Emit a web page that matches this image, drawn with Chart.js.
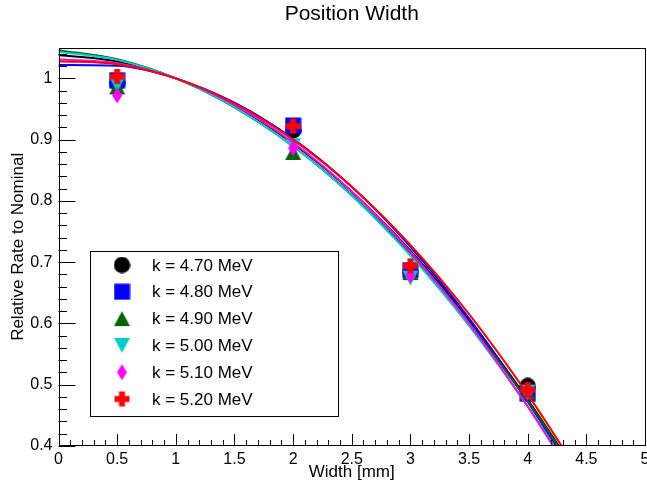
<!DOCTYPE html>
<html><head><meta charset="utf-8">
<script src="https://cdn.jsdelivr.net/npm/chart.js@4.4.1/dist/chart.umd.min.js"></script>
<style>html,body{margin:0;padding:0;background:#fff;}#wrap{width:647px;height:487px;}</style>
</head><body><div id="wrap"><canvas id="c" width="647" height="487"></canvas></div>
<script>
// ---- data ----
const widths = [0.5, 2, 3, 4];
const seriesLabels = ['k = 4.70 MeV', 'k = 4.80 MeV', 'k = 4.90 MeV', 'k = 5.00 MeV', 'k = 5.10 MeV', 'k = 5.20 MeV'];
const rate470 = [0.993, 0.915, 0.685, 0.498];
const rate480 = [0.997, 0.923, 0.687, 0.485];
const rate490 = [0.986, 0.879, 0.683, 0.488];
const rate500 = [0.990, 0.890, 0.674, 0.488];
const rate510 = [0.972, 0.886, 0.678, 0.487];
const rate520 = [1.003, 0.922, 0.694, 0.492];

// fitted curves at these widths, plus where each leaves the frame (y = 0.4)
const fitX = [0, 0.5, 1, 1.5, 2, 2.5, 3, 3.5, 4];
const fit470 = [1.038, 1.0275, 1.0, 0.9554, 0.8937, 0.8148, 0.7189, 0.6059, 0.4758];
const fit480 = [1.0217, 1.0205, 1.0, 0.9602, 0.9012, 0.8229, 0.7252, 0.6084, 0.4722];
const fit490 = [1.046, 1.0311, 1.0, 0.9527, 0.8892, 0.8095, 0.7136, 0.6015, 0.4732];
const fit500 = [1.0434, 1.0301, 1.0, 0.9530, 0.8891, 0.8083, 0.7106, 0.5961, 0.4647];
const fit510 = [1.031, 1.0247, 1.0, 0.9568, 0.8952, 0.8152, 0.7167, 0.5998, 0.4644];
const fit520 = [1.028, 1.0230, 1.0, 0.9590, 0.9000, 0.8231, 0.7281, 0.6152, 0.4842];
const fitExitX = [4.265, 4.24, 4.26, 4.225, 4.217, 4.29];
const fitExitY = 0.4;

const xTickLabels = ['0', '0.5', '1', '1.5', '2', '2.5', '3', '3.5', '4', '4.5', '5'];
const yTickLabels = ['0.4', '0.5', '0.6', '0.7', '0.8', '0.9', '1'];

// ---- styling ----
const colors = ['#000000', '#0000ff', '#006400', '#00cccc', '#ff00ff', '#ff0000'];
const shapes = ['circle', 'square', 'triUp', 'triDown', 'diamond', 'cross'];
const FONT = "'Liberation Sans', Arial, Helvetica, sans-serif";

function makeMarker(shape, color) {
  const s = 17, m = s / 2;
  const c = document.createElement('canvas');
  c.width = s; c.height = s;
  const g = c.getContext('2d');
  g.fillStyle = color;
  g.beginPath();
  switch (shape) {
    case 'circle': g.arc(m, m, 8.2, 0, Math.PI * 2); break;
    case 'square': g.rect(0.5, 0.5, 16, 16); break;
    case 'triUp': g.moveTo(m, 1); g.lineTo(16.5, 16); g.lineTo(0.5, 16); g.closePath(); break;
    case 'triDown': g.moveTo(0.5, 1); g.lineTo(16.5, 1); g.lineTo(m, 16); g.closePath(); break;
    case 'diamond': g.moveTo(m, 0.5); g.lineTo(m + 5, m); g.lineTo(m, 16.5); g.lineTo(m - 5, m); g.closePath(); break;
    case 'cross': g.rect(m - 3, 1, 6, 15); g.rect(1, m - 3, 15, 6); break;
  }
  g.fill();
  return c;
}
const markers = shapes.map((s, i) => makeMarker(s, colors[i]));

const rates = [rate470, rate480, rate490, rate500, rate510, rate520];
const fits = [fit470, fit480, fit490, fit500, fit510, fit520];

const datasets = [];
rates.forEach((r, i) => {
  datasets.push({
    label: seriesLabels[i],
    data: widths.map((w, j) => ({ x: w, y: r[j] })),
    pointStyle: markers[i],
    pointRadius: 8,
    showLine: false,
    order: 20 - 2 * i,
    isMarker: true
  });
  const pts = fitX.map((x, j) => ({ x: x, y: fits[i][j] }));
  pts.push({ x: fitExitX[i], y: fitExitY });
  datasets.push({
    label: 'fit ' + seriesLabels[i],
    data: pts,
    showLine: true,
    pointRadius: 0,
    borderColor: colors[i],
    borderWidth: 2,
    cubicInterpolationMode: 'monotone',
    order: 19 - 2 * i,
    isMarker: false
  });
});

const framePlugin = {
  id: 'rootFrame',
  afterDraw(chart) {
    const { ctx, chartArea: a, scales: { x, y } } = chart;
    ctx.save();
    ctx.strokeStyle = '#000';
    ctx.lineWidth = 1;
    // frame
    ctx.strokeRect(Math.round(a.left) + 0.5, Math.round(a.top) + 0.5, Math.round(a.right - a.left) - 1, Math.round(a.bottom - a.top) - 1);
    ctx.beginPath();
    // x ticks (every 0.1, major every 0.5)
    for (let k = 0; k <= 50; k++) {
      const px = Math.round(x.getPixelForValue(k / 10)) + 0.5;
      const len = (k % 5 === 0) ? 12 : 6;
      ctx.moveTo(px, a.bottom); ctx.lineTo(px, a.bottom - len);
    }
    // y ticks (every 0.02, major every 0.1)
    for (let k = 0; k <= 32; k++) {
      const v = 0.4 + k * 0.02;
      const py = Math.round(y.getPixelForValue(v)) + 0.5;
      const len = (k % 5 === 0) ? 17 : 8.5;
      ctx.moveTo(a.left, py); ctx.lineTo(a.left + len, py);
    }
    ctx.stroke();

    // legend box (ROOT TLegend style)
    const L = { x: 90.5, y: 251.5, w: 248, h: 165 };
    ctx.fillStyle = '#fff';
    ctx.fillRect(L.x, L.y, L.w, L.h);
    ctx.strokeRect(L.x, L.y, L.w, L.h);
    ctx.font = '17px ' + FONT;
    ctx.textBaseline = 'middle';
    ctx.textAlign = 'left';
    ctx.fillStyle = '#000';
    const items = chart.data.datasets.filter(d => d.isMarker);
    items.forEach((d, i) => {
      const cy = 265 + i * 26.8;
      const img = d.pointStyle;
      ctx.drawImage(img, 122 - img.width / 2, cy - img.height / 2);
      ctx.fillText(d.label, 152, cy + 1);
    });
    ctx.restore();
  }
};

new Chart(document.getElementById('c'), {
  type: 'scatter',
  data: { datasets },
  options: {
    responsive: false,
    devicePixelRatio: 1,
    animation: false,
    events: [],
    layout: { autoPadding: false, padding: { left: 0, right: 2, top: 0, bottom: 0 } },
    plugins: {
      legend: { display: false },
      tooltip: { enabled: false },
      title: {
        display: true,
        text: 'Position Width',
        fullSize: false,
        color: '#000',
        font: { family: FONT, size: 21, weight: 'normal', lineHeight: 1.2 },
        padding: { top: 1.5, bottom: 21 }
      }
    },
    scales: {
      x: {
        type: 'linear', min: 0, max: 5,
        grid: { display: false, drawTicks: false },
        border: { display: false },
        afterFit(s) { s.height = 41; s.paddingLeft = 0; s.paddingRight = 0; },
        afterBuildTicks(s) { s.ticks = xTickLabels.map(t => ({ value: parseFloat(t) })); },
        ticks: {
          color: '#000', padding: 4, maxRotation: 0, autoSkip: false,
          font: { family: FONT, size: 16 },
          callback: (v) => xTickLabels.find(t => Math.abs(parseFloat(t) - v) < 1e-9) || ''
        },
        title: {
          display: true, text: 'Width [mm]', color: '#000',
          font: { family: FONT, size: 17, lineHeight: 1.2 },
          padding: { top: 0, bottom: 4 }
        }
      },
      y: {
        type: 'linear', min: 0.4, max: 1.05,
        grid: { display: false, drawTicks: false },
        border: { display: false },
        afterFit(s) { s.width = 58.5; s.paddingTop = 0; s.paddingBottom = 0; },
        afterBuildTicks(s) { s.ticks = yTickLabels.map(t => ({ value: parseFloat(t) })); },
        ticks: {
          color: '#000', padding: 6, autoSkip: false,
          font: { family: FONT, size: 16 },
          callback: (v) => yTickLabels.find(t => Math.abs(parseFloat(t) - v) < 1e-9) || ''
        },
        title: {
          display: true, text: 'Relative Rate to Nominal', color: '#000',
          font: { family: FONT, size: 17, lineHeight: 1.2 },
          padding: { top: 8, bottom: 0 }
        }
      }
    }
  },
  plugins: [framePlugin]
});
</script>
</body></html>
